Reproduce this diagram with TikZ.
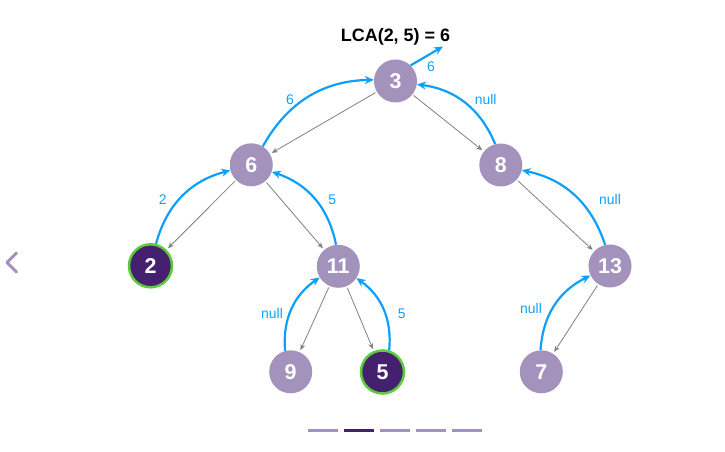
\documentclass[tikz,border=0pt]{standalone}
\usepackage{fontspec}
\setmainfont{Liberation Sans}
\usetikzlibrary{arrows.meta}
\definecolor{lp}{HTML}{A393BC}
\definecolor{dp}{HTML}{44206F}
\definecolor{gr}{HTML}{5DCB3B}
\definecolor{bl}{HTML}{0EA0F8}
\definecolor{gy}{HTML}{808080}
\tikzset{
  tn/.style={circle, minimum size=43bp, inner sep=0pt, fill=lp, text=white, font=\fontsize{21.5}{21.5}\selectfont\bfseries},
  hn/.style={tn, fill=dp, draw=gr, line width=2.5bp},
  garrow/.style={draw=gy, line width=0.8bp, -{Stealth[length=6bp,width=5bp]}, shorten <=1.5bp, shorten >=2bp},
  barrow/.style={draw=bl, line width=2.2bp, -{Stealth[length=9bp,width=8bp]}},
  blab/.style={text=bl, font=\fontsize{14}{14}\selectfont},
  pager/.style={line width=3bp, draw=lp},
}
\begin{document}
\begin{tikzpicture}[x=1bp,y=-1bp]
\useasboundingbox (0,0) rectangle (725,452);
% nodes
\node[tn] (n3) at (395.5,81) {3};
\node[tn] (n6) at (251.3,164.8) {6};
\node[tn] (n8) at (500.8,165) {8};
\node[hn] (n2) at (150.5,265.8) {2};
\node[tn] (n11) at (338.3,266.3) {11};
\node[tn] (n13) at (610,266) {13};
\node[tn] (n9) at (290.7,371.8) {9};
\node[hn] (n5) at (382.5,372) {5};
\node[tn] (n7) at (541.3,371.8) {7};
% title
\node[font=\fontsize{18}{18}\selectfont\bfseries] (title) at (395.5,37) {LCA(2, 5) = 6};
\coordinate (out) at (443,46.5);
% gray tree edges
\draw[garrow] (n3) -- (n6);
\draw[garrow] (n3) -- (n8);
\draw[garrow] (n6) -- (n2);
\draw[garrow] (n6) -- (n11);
\draw[garrow] (n11) -- (n9);
\draw[garrow] (n11) -- (n5);
\draw[garrow] (n8) -- (n13);
\draw[garrow] (n13) -- (n7);
% blue return arrows
\draw[barrow] (n3.46) -- (out);
\draw[barrow] (n6.58) to[bend left=30] (n3.177);
\draw[barrow] (n8.105) to[bend right=30] (n3.-9);
\draw[barrow] (n2.76) to[bend left=30] (n6.195);
\draw[barrow] (n11.96) to[bend right=30] (n6.-19);
\draw[barrow] (n9.105) to[bend left=30] (n11.211);
\draw[barrow] (n5.73) to[bend right=30] (n11.-33);
\draw[barrow] (n13.103) to[bend right=30] (n8.-14);
\draw[barrow] (n7.92) to[bend left=30] (n13.206);
% labels
\node[blab] (l1) at (431,66.7) {6};
\node[blab] (l2) at (290,99.3) {6};
\node[blab] (l3) at (485.7,100) {null};
\node[blab] (l4) at (162.7,200) {2};
\node[blab] (l5) at (332.3,200) {5};
\node[blab] (l6) at (272,313.3) {null};
\node[blab] (l7) at (401.7,313.3) {5};
\node[blab] (l8) at (610,200) {null};
\node[blab] (l9) at (531,309) {null};
% left chevron
\draw[lp, line width=3bp, line cap=round, line join=round] (16.5,253) -- (7,262.5) -- (16.5,272);
% pager
\draw[pager] (308.3,430) -- (337.7,430);
\draw[pager, draw=dp] (344.3,430) -- (374,430);
\draw[pager] (380,430) -- (410,430);
\draw[pager] (416,430) -- (446,430);
\draw[pager] (452,430) -- (481.7,430);
\end{tikzpicture}
\end{document}
